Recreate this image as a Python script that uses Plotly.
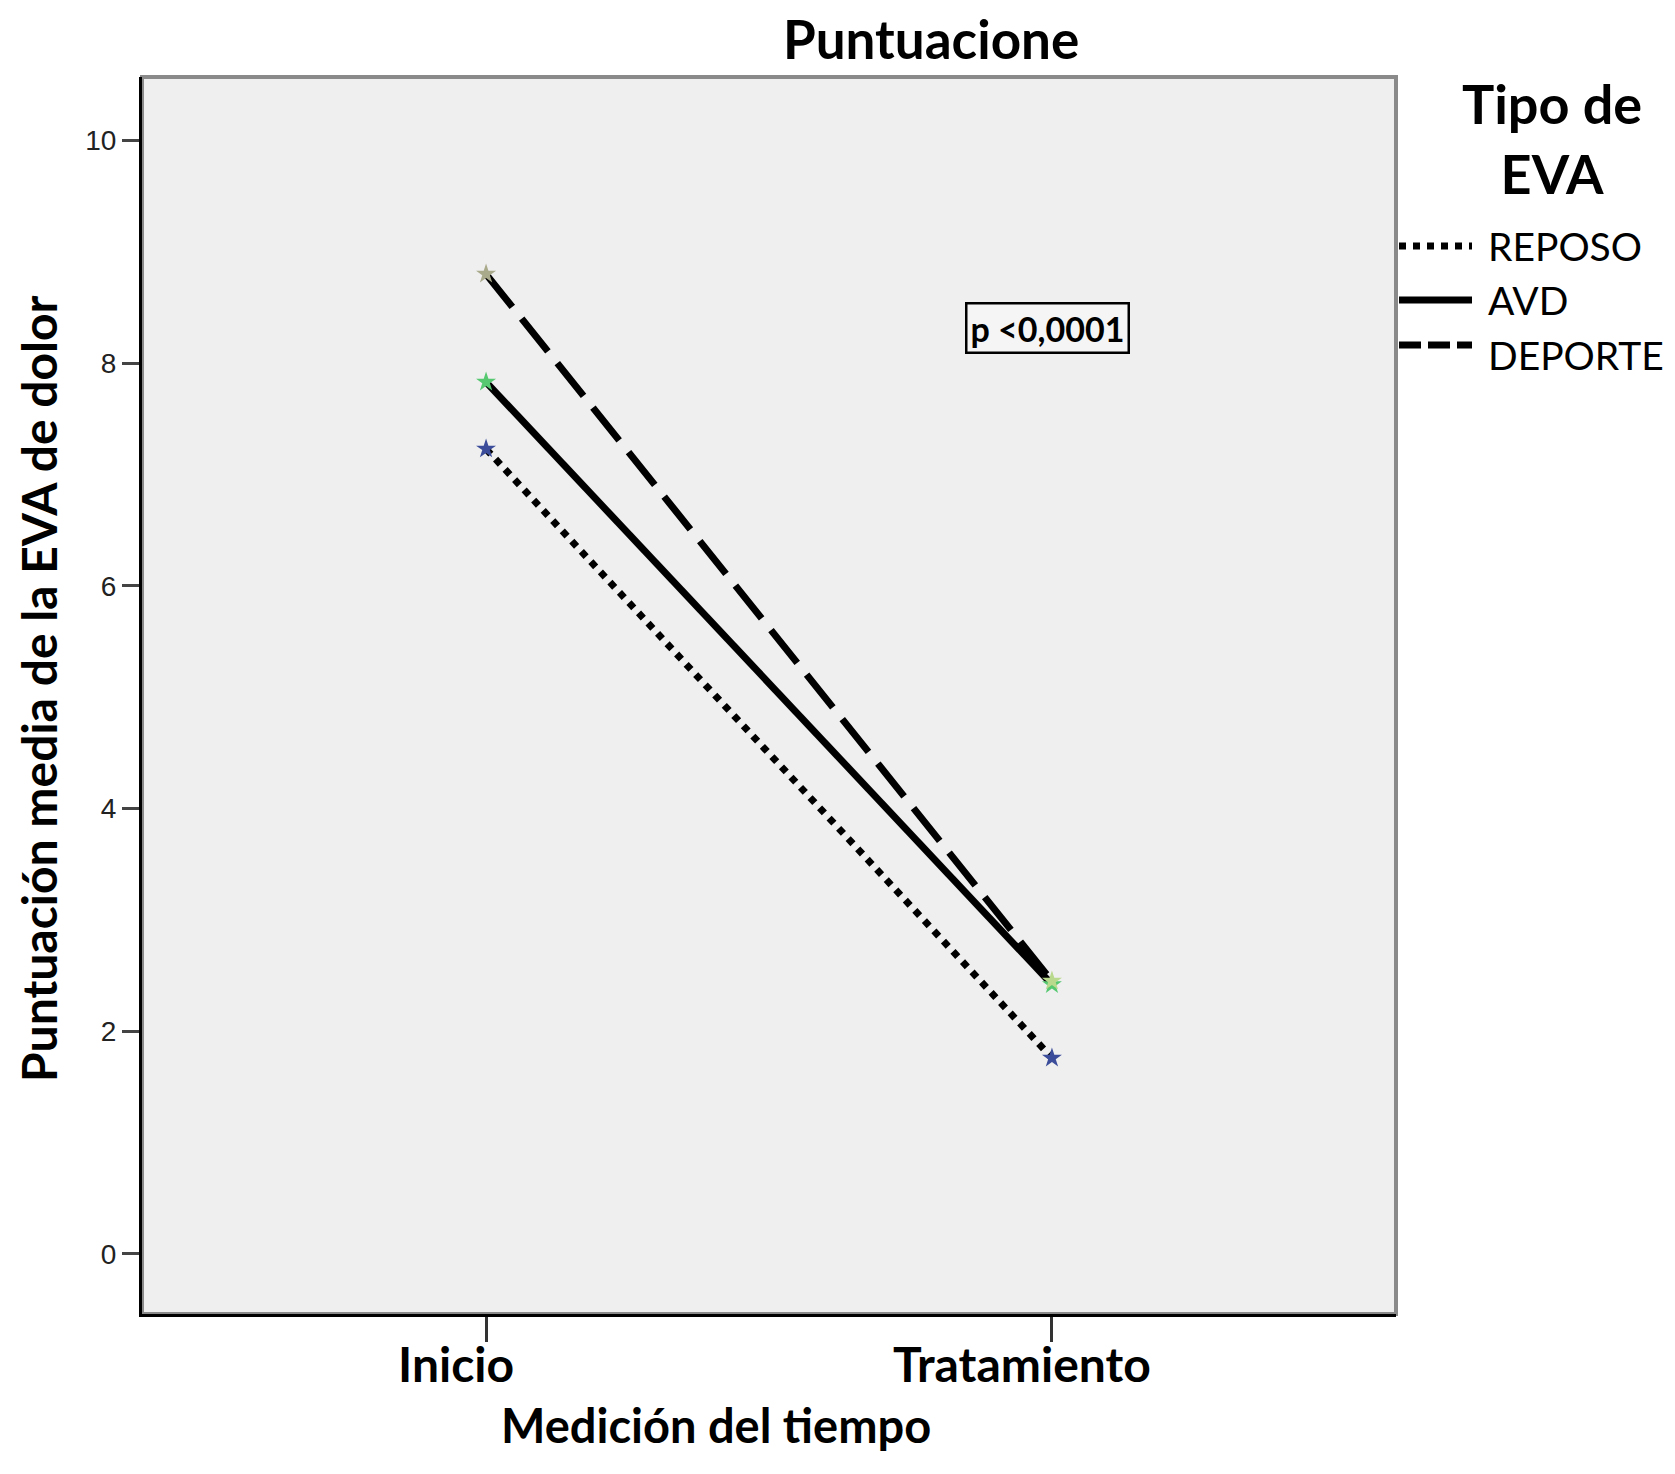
import plotly.graph_objects as go

# ---- data ----
categories = ["Inicio", "Tratamiento"]
series_names = ["REPOSO", "AVD", "DEPORTE"]
reposo = [7.23, 1.76]
avd = [7.83, 2.42]
deporte = [8.80, 2.45]
y_tickvals = [0, 2, 4, 6, 8, 10]
y_ticktext = ["0", "2", "4", "6", "8", "10"]

series_values = [reposo, avd, deporte]
marker_colors = [["#3b4d9a", "#3b4d9a"], ["#55c870", "#55c870"], ["#a9a98c", "#b9d98c"]]
dashes = ["dot", "solid", "42px,15px"]
legend_dashes = ["dot", "solid", "22px,7px"]

OFF = 8  # page body margin
W, H = 1667, 1466
ML, MT = 142 - OFF, 77 - OFF
PW, PH = 1254, 1237
MR, MB = W - ML - PW, H - MT - PH


def px_to_paper_x(px):
    return (px - OFF - ML) / PW


def px_to_paper_y(py):
    return (MT + PH - (py - OFF)) / PH


fig = go.Figure()
for name, vals, mc, dash in zip(series_names, series_values, marker_colors, dashes):
    fig.add_trace(go.Scatter(
        x=categories, y=vals, mode="lines+markers", name=name,
        line=dict(color="black", width=7, dash=dash),
        marker=dict(symbol="star", size=15, color=mc, line=dict(width=0)),
        showlegend=False,
    ))

font_tick = dict(family="Lato", size=48, color="black", weight="bold")

fig.update_layout(
    width=W, height=H,
    margin=dict(l=ML, r=MR, t=MT, b=MB),
    paper_bgcolor="white",
    plot_bgcolor="#efefef",
    xaxis=dict(
        type="category", categoryorder="array", categoryarray=categories,
        range=[-0.608, 1.608], showgrid=False, zeroline=False,
        showline=True, linecolor="black", linewidth=3,
        ticks="outside", ticklen=25, tickwidth=3, tickcolor="#333",
        tickfont=font_tick, ticklabelshift=-30, ticklabelstandoff=-18,
    ),
    yaxis=dict(
        range=[-0.54, 10.57], showgrid=False, zeroline=False,
        showline=True, linecolor="black", linewidth=3,
        ticks="outside", ticklen=17, tickwidth=2.5, tickcolor="#444",
        tickvals=y_tickvals, ticktext=y_ticktext,
        tickfont=dict(family="Liberation Sans", size=28, color="#222"),
    ),
    shapes=[
        dict(type="rect", xref="x domain", yref="y domain", x0=0, x1=1, y0=0, y1=1,
             line=dict(color="#8a8a8a", width=4), layer="below"),
    ],
)

# Title and axis titles
fig.add_annotation(text="Puntuacione", xref="paper", yref="paper",
                   x=px_to_paper_x(931), y=px_to_paper_y(38), showarrow=False,
                   xanchor="center", yanchor="middle",
                   font=dict(family="Lato", size=53, color="black", weight="bold"))
fig.add_annotation(text="Medición del tiempo", xref="paper", yref="paper",
                   x=px_to_paper_x(716), y=px_to_paper_y(1425), showarrow=False,
                   xanchor="center", yanchor="middle",
                   font=dict(family="Lato", size=47, color="black", weight="bold"))
fig.add_annotation(text="Puntuación media de la EVA de dolor", xref="paper", yref="paper",
                   x=px_to_paper_x(38), y=px_to_paper_y(689), showarrow=False, textangle=-90,
                   xanchor="center", yanchor="middle",
                   font=dict(family="Lato", size=48, color="black", weight="bold"))

# p-value box
fig.add_annotation(text="p <0,0001", xref="x", yref="y", x=0.993, y=8.32,
                   showarrow=False, font=dict(family="Lato", size=34, color="black", weight="bold"),
                   bordercolor="black", borderwidth=2.5, borderpad=3, bgcolor="#f5f5f5")

# Legend (custom, to match long line samples)
fig.add_annotation(text="Tipo de<br>EVA", xref="paper", yref="paper",
                   x=px_to_paper_x(1552), y=px_to_paper_y(139), showarrow=False,
                   xanchor="center", yanchor="middle", align="center",
                   font=dict(family="Lato", size=54, color="black", weight="bold"))
legend_line_rows = [246, 300, 345]
legend_text_rows = [246, 300, 355]
for name, dash, lrow, trow in zip(series_names, legend_dashes, legend_line_rows, legend_text_rows):
    yy = px_to_paper_y(lrow)
    fig.add_shape(type="line", xref="paper", yref="paper",
                  x0=px_to_paper_x(1399), x1=px_to_paper_x(1472), y0=yy, y1=yy,
                  line=dict(color="black", width=7, dash=dash))
    fig.add_annotation(text=name, xref="paper", yref="paper",
                       x=px_to_paper_x(1486), y=px_to_paper_y(trow), showarrow=False,
                       xanchor="left", yanchor="middle",
                       font=dict(family="Lato", size=39, color="black"))

fig.write_html("out.html")
